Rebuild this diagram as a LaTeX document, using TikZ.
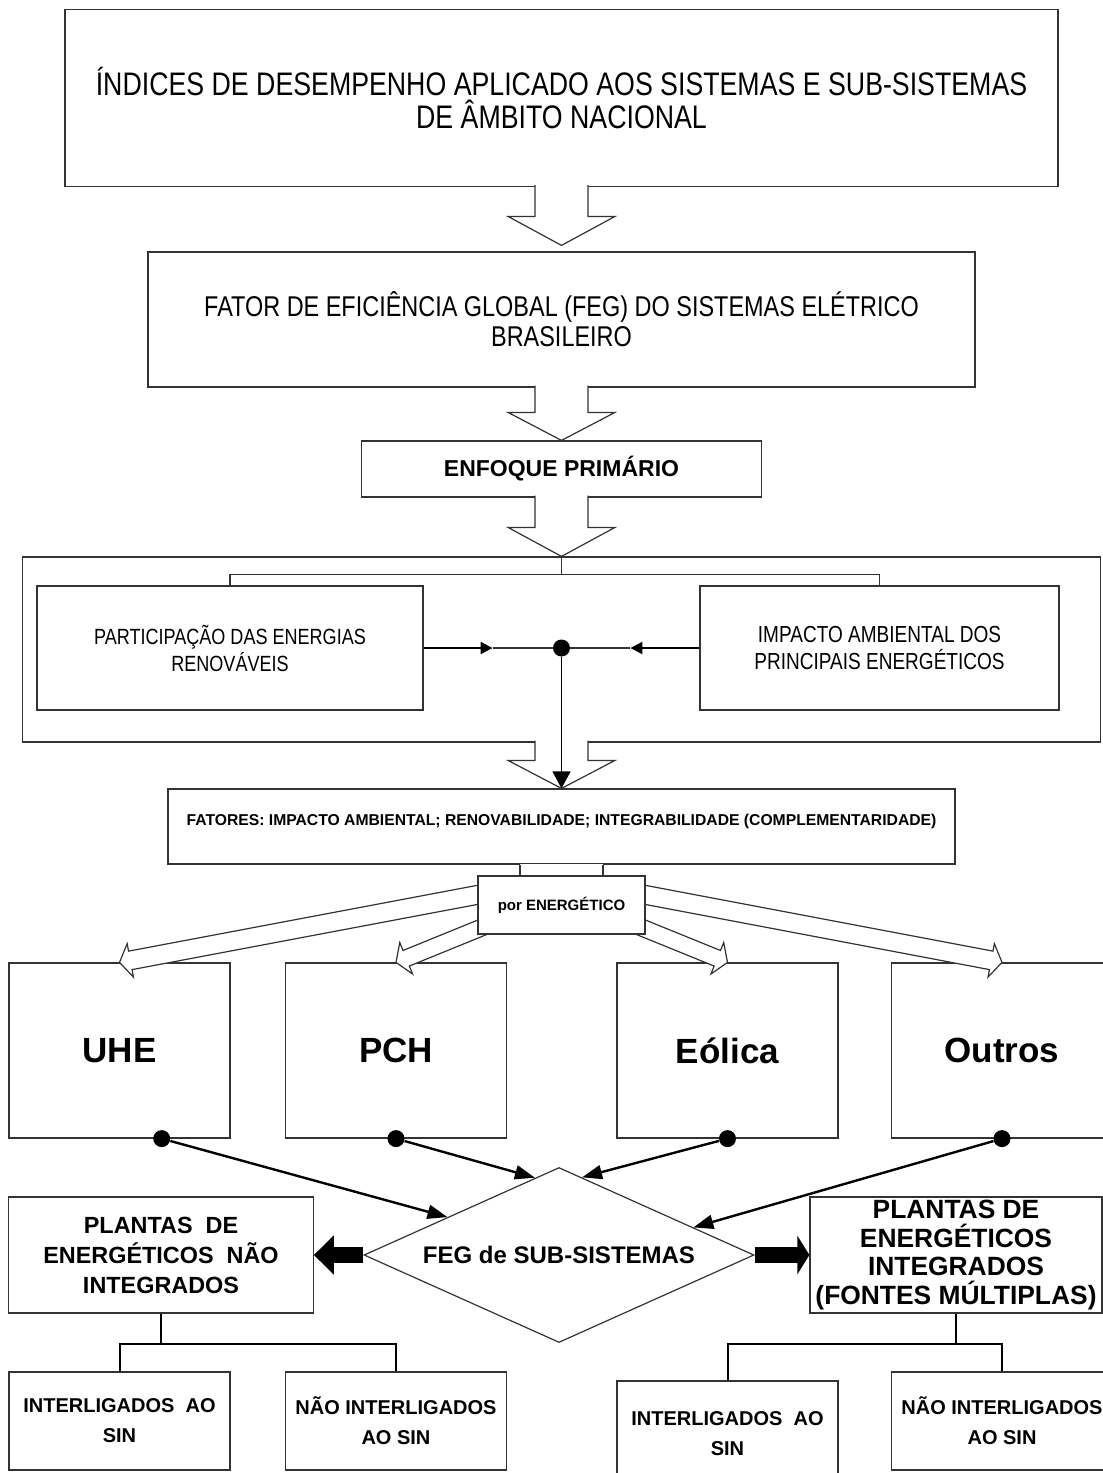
\documentclass[tikz,border=0pt]{standalone}
\usepackage{fontspec}
\setmainfont{Liberation Sans}
\newfontfamily\narrowfont[FakeStretch=0.82]{Liberation Sans}
\usetikzlibrary{positioning,calc,shapes.geometric,arrows.meta}

% seta larga vazada: inicio, fim, meia largura da haste, meia largura da cabeca, comprimento da cabeca
\newcommand{\hollowarrow}[5]{%
	\coordinate (ha-s) at ($(#1)!-1pt!(#2)$);
	\coordinate (ha-b) at ($(#2)!#5!(#1)$);
	\draw[hollow] ($(ha-s)!#3!90:(#2)$) -- ($(ha-b)!#3!90:(#2)$) -- ($(ha-b)!#4!90:(#2)$) -- (#2)
		-- ($(ha-b)!#4!-90:(#2)$) -- ($(ha-b)!#3!-90:(#2)$) -- ($(ha-s)!#3!-90:(#2)$);
}

\begin{document}
\begin{tikzpicture}[
						x=0.5pt, y=-0.5pt,
						box/.style={
							draw=black!80,        % caixa simples
							line width=0.6pt,
							fill=white,
							inner sep=1pt,
							align=center
						},
						hollow/.style={           % seta vazada
							draw=black!80, line width=0.6pt,
							fill=white, line join=miter
						},
						dot/.style={circle, fill=black, inner sep=0pt, minimum size=8.5pt},
						feed/.style={line width=1.2pt, -{Triangle[length=10pt,width=7pt]}},
						thinline/.style={draw=black!80, line width=0.6pt},
						tree/.style={line width=1pt},
						block/.style={line width=8pt},
						ebox/.style={box, minimum width=110.5pt, minimum height=87.5pt,
							font=\bfseries\fontsize{17.5}{20}\selectfont},
						leaf/.style={box, minimum width=110.5pt, minimum height=49pt,
							font=\bfseries\fontsize{10}{15}\selectfont}
						]
						\useasboundingbox (0,0) rectangle (1103,1473);
						
						% --- NIVEIS SUPERIORES ---
						\node[box, minimum width=496.5pt, minimum height=88.5pt,
							font=\narrowfont\fontsize{16.3}{16.5}\selectfont] (idx) at (561.5,98)
							{ÍNDICES DE DESEMPENHO APLICADO AOS SISTEMAS E SUB-SISTEMAS\\DE ÂMBITO NACIONAL};
						\node[box, minimum width=413.5pt, minimum height=67.5pt,
							font=\narrowfont\fontsize{14.3}{15}\selectfont] (feg) at (561.5,319.5)
							{FATOR DE EFICIÊNCIA GLOBAL (FEG) DO SISTEMAS ELÉTRICO\\BRASILEIRO};
						\node[box, minimum width=200pt, minimum height=28pt,
							font=\bfseries\fontsize{11.5}{12}\selectfont] (enf) at (561.5,469) {ENFOQUE PRIMÁRIO};
						
						% --- MOLDURA COM OS DOIS CRITERIOS ---
						\node[box, fill=none, minimum width=539pt, minimum height=92.5pt] (frame) at (561.5,649.5) {};
						\node[box, minimum width=193pt, minimum height=62pt,
							font=\narrowfont\fontsize{11}{13.5}\selectfont] (part) at (230,648)
							{PARTICIPAÇÃO DAS ENERGIAS\\RENOVÁVEIS};
						\node[box, minimum width=179.5pt, minimum height=62pt,
							font=\narrowfont\fontsize{11.6}{13.5}\selectfont] (imp) at (879.5,648)
							{IMPACTO AMBIENTAL DOS\\PRINCIPAIS ENERGÉTICOS};
						\node[box, minimum width=393.5pt, minimum height=37.5pt,
							font=\bfseries\fontsize{7.85}{9}\selectfont] (fat) at (561.5,826.5)
							{\raisebox{6.5pt}{FATORES: IMPACTO AMBIENTAL; RENOVABILIDADE; INTEGRABILIDADE (COMPLEMENTARIDADE)}};
						\node[dot] (hub) at (fat.north |- part.east) {};
						
						% setas vazadas verticais
						\coordinate (a1e) at ($(feg.north)+(0,-6)$);
						\hollowarrow{idx.south}{a1e}{13.25pt}{26.75pt}{14.5pt}
						\hollowarrow{feg.south}{enf.north}{13.25pt}{26.75pt}{14pt}
						\hollowarrow{enf.south}{frame.north}{13.25pt}{26.75pt}{14.5pt}
						\hollowarrow{frame.south}{fat.north}{13.25pt}{26.75pt}{14pt}
						
						% ligacoes dentro da moldura
						\draw[thinline] (frame.north) -- ++(0,18) coordinate (fj);
						\draw[thinline] (part.north) |- (fj) -| (imp.north);
						\coordinate (ml) at ($(part.east)!0.5!(hub)$);
						\coordinate (mr) at ($(imp.west)!0.5!(hub)$);
						\draw[line width=1.1pt, -{Triangle[length=6pt,width=6pt]}] (part.east) -- (ml);
						\draw[thinline] (ml) -- (hub);
						\draw[line width=1.1pt, -{Triangle[length=6pt,width=6pt]}] (imp.west) -- (mr);
						\draw[thinline] (mr) -- (hub);
						\draw[line width=0.6pt, -{Triangle[length=8.5pt,width=9pt]}] (hub) -- (fat.north);
						
						% --- POR ENERGETICO ---
						\foreach \nm/\lab/\cx in {uhe/UHE/119.5, pch/PCH/396, eol/Eólica/727.5, out/Outros/1002} {
							\node[ebox] (\nm) at (\cx,1050.5) {\lab};
						}
						\coordinate (porc) at (561.5,905);
						\coordinate (pout) at ($(porc)+(0,-26)$);
						\coordinate (pin) at ($(porc)+(0,-10)$);
						\hollowarrow{pout}{uhe.north}{4.7pt}{8.5pt}{5.5pt}
						\hollowarrow{pin}{pch.north}{4.2pt}{8.5pt}{5.5pt}
						\hollowarrow{pin}{eol.north}{4.2pt}{8.5pt}{5.5pt}
						\hollowarrow{pout}{out.north}{4.7pt}{8.5pt}{5.5pt}
						\fill[white] ($(fat.south)+(-41.5,-1)$) rectangle ($(porc)+(41.5,0)$);
						\draw[thinline] ($(fat.south)+(-41.5,0)$) -- ($(porc)+(-41.5,0)$);
						\draw[thinline] ($(fat.south)+(41.5,0)$) -- ($(porc)+(41.5,0)$);
						\node[box, minimum width=83.5pt, minimum height=29pt,
							font=\bfseries\fontsize{7.5}{9}\selectfont] (por) at (porc) {por ENERGÉTICO};
						
						% --- FEG DE SUB-SISTEMAS ---
						\foreach \nm/\f in {uhe/0.69, pch/0.5, eol/0.5, out/0.5} {
							\node[dot] (\nm-dot) at ($(\nm.south west)!\f!(\nm.south east)$) {};
						}
						\node[diamond, draw=black!80, line width=0.6pt, aspect=2.2, inner sep=0pt,
							minimum width=195pt, minimum height=87.5pt,
							font=\bfseries\fontsize{12}{15}\selectfont] (sub) at (559,1255) {FEG de SUB-SISTEMAS};
						\coordinate (t1) at ($(sub.west)!0.43!(sub.north)$);
						\coordinate (t2) at ($(sub.west)!0.877!(sub.north)$);
						\coordinate (t3) at ($(sub.north)!0.118!(sub.east)$);
						\coordinate (t4) at ($(sub.north)!0.687!(sub.east)$);
						\draw[feed] (uhe-dot) -- (t1);
						\draw[feed] (pch-dot) -- (t2);
						\draw[feed] (eol-dot) -- (t3);
						\draw[feed] (out-dot) -- (t4);
						
						\node[box, minimum width=152.25pt, minimum height=58pt,
							font=\bfseries\fontsize{11.7}{15}\selectfont] (nint) at (161,1255)
							{PLANTAS\ \ DE\\ENERGÉTICOS\ \ NÃO\\INTEGRADOS};
						\node[box, inner sep=0pt, minimum width=146pt, minimum height=58pt,
							font=\bfseries\fontsize{13.2}{14.3}\selectfont] (intg) at (956,1255)
							{PLANTAS DE\\ENERGÉTICOS\\INTEGRADOS\\(FONTES MÚLTIPLAS)};
						\draw[block, -{Triangle[length=10pt,width=19pt]}] (sub.west) -- (nint.east);
						\draw[block, -{Triangle[length=6pt,width=19pt]}] (sub.east) -- (intg.west);
						
						% --- FOLHAS ---
						\node[leaf] (b1) at (119.5,1421) {INTERLIGADOS\ \ AO\\SIN};
						\node[leaf] (b2) at (396,1421) {NÃO INTERLIGADOS\\AO SIN};
						\node[leaf, minimum height=53pt] (b3) at (727.5,1434) {INTERLIGADOS\ \ AO\\SIN};
						\node[leaf] (b4) at (1002,1421) {NÃO INTERLIGADOS\\AO SIN};
						\draw[tree] (nint.south) -- ++(0,30) coordinate (lj);
						\draw[tree] (b1.north) |- (lj) -| (b2.north);
						\draw[tree] (intg.south) -- ++(0,30) coordinate (rj);
						\draw[tree] (b3.north) |- (rj) -| (b4.north);
						
					\end{tikzpicture}
\end{document}
